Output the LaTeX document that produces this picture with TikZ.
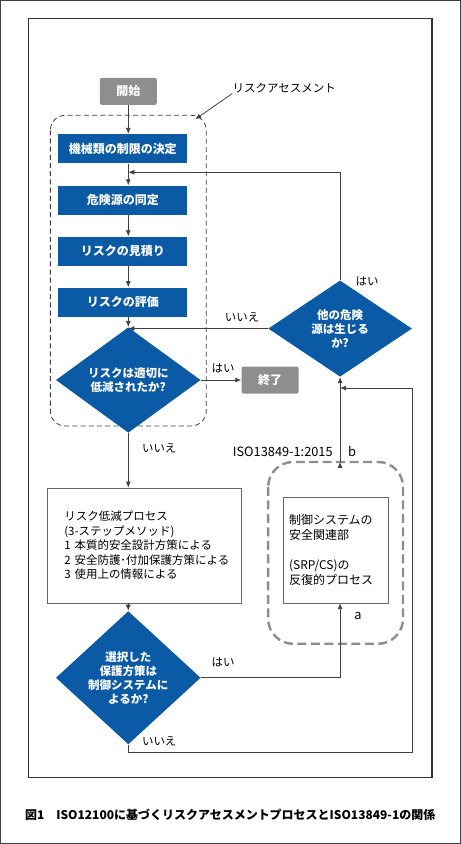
\documentclass[tikz,border=0pt]{standalone}
\usepackage{fontspec}
\setmainfont{Noto Sans CJK JP}
\usepackage{tikz}
\usetikzlibrary{positioning,shapes.geometric,arrows.meta}

\definecolor{procblue}{HTML}{0B5AA6}
\definecolor{termgray}{HTML}{8E8E8E}
\definecolor{linegray}{HTML}{404040}

\begin{document}
\begin{tikzpicture}[x=1pt,y=-1pt,on grid,
  >={Latex[length=6pt,width=5pt]},
  every path/.style={draw=linegray,line width=0.8pt},
  proc/.style={rectangle,fill=procblue,draw=none,text=white,font=\fontsize{12}{14}\selectfont\bfseries,
    minimum width=129pt,minimum height=29pt,inner sep=0pt},
  term/.style={rectangle,rounded corners=2pt,fill=termgray,draw=none,text=white,
    font=\fontsize{12}{14}\selectfont\bfseries,minimum width=57pt,minimum height=27pt,inner sep=0pt},
  decide/.style={diamond,fill=procblue,draw=none,text=white,align=center,inner sep=0pt,
    font=\fontsize{11.5}{14.2}\selectfont\bfseries},
  plain/.style={rectangle,draw=linegray!80,line width=0.6pt,fill=white,align=left,inner sep=0pt,
    font=\fontsize{11.5}{14.5}\selectfont},
  lbl/.style={inner sep=0pt,font=\fontsize{11.5}{13}\selectfont}]
\useasboundingbox (0,0) rectangle (460,844);
\draw[line width=1.4pt,draw=black!80] (28,18) rectangle (432,778);

% risk assessment
\node[term] (start) at (128,91) {開始};
\node[proc] (b1) [below=57.5pt of start,xshift=-5.5pt] {機械類の制限の決定};
\node[proc] (b2) [below=51.5pt of b1] {危険源の同定};
\node[proc] (b3) [below=51pt of b2] {リスクの見積り};
\node[proc] (b4) [below=51pt of b3] {リスクの評価};
\node[decide,minimum width=145pt,minimum height=69pt] (d1) at (128,380) {リスクは適切に\\低減されたか?};
\node[term] (stop) [right=142pt of d1] {終了};
\draw[dashed,dash pattern=on 5pt off 3.2pt,rounded corners=15pt] (50,115) rectangle (206,426);
\node[lbl,anchor=west] (ra) at (232,88) {リスクアセスメント};
\coordinate (ratip) at (195,119);

% other hazards
\node[decide,minimum width=144pt,minimum height=69pt] (d2) at (340,328.5) {他の危険\\源は生じる\\か?};

% reduction
\node[plain,minimum width=194pt,minimum height=115pt,text width=160pt] (red) at (144,545.5)
  {リスク低減プロセス\\(3-ステップメソッド)\\1~本質的安全設計方策による\\2~安全防護･付加保護方策による\\3~使用上の情報による};
\node[decide,minimum width=145pt,minimum height=90pt] (d3) at (128,678) {選択した\\保護方策は\\制御システムに\\よるか?};

% ISO13849-1
\draw[dashed,draw=termgray,line width=2.4pt,dash pattern=on 9pt off 4.5pt,rounded corners=25pt] (268,462) rectangle (403,644);
\coordinate (iso) at (340,462);
\node[plain,minimum width=105pt,minimum height=106pt,text width=93pt,font=\fontsize{12}{15}\selectfont] (srp) at (335.5,550)
  {制御システムの\\安全関連部\\[15pt](SRP/CS)の\\反復的プロセス};
\node[lbl,anchor=east,font=\fontsize{12.8}{14}\selectfont] (isolbl) at (333,452) {ISO13849-1:2015};
\node[lbl,font=\fontsize{12.8}{14}\selectfont] (blbl) at (352,452) {b};
\node[lbl,font=\fontsize{12.8}{14}\selectfont] (albl) at (358,616) {a};

\coordinate (c1) at (412,753);
\coordinate (c2) at (412,388);
\coordinate (c3) at (340,172);

\path[->]
(start) edge (start |- b1.north)
(b1.south -| start) edge (b2.north -| start)
(b2.south -| start) edge (b3.north -| start)
(b3.south -| start) edge (b4.north -| start)
(b4.south -| start) edge (d1.north)
(d1) edge (stop)
(d1.south) edge (d1.south |- red.north)
(red.south -| d3) edge (d3.north)
(ra.south west) edge (ratip)
(d2.west) edge (d2.west -| d1.north)
(iso) edge (d2.south)
; %end path
\draw[->] (d2.north) -- (c3) -- (c3 -| start);
\draw[->] (d3.east) -| (d2 |- srp.south);
\draw[->] (d3.south) |- (c1) -- (c2) -- (c2 -| d2);

\node[lbl] at (367,281) {はい};
\node[lbl] at (242,317) {いいえ};
\node[lbl] at (223,368) {はい};
\node[lbl] at (159,448) {いいえ};
\node[lbl] at (223,663) {はい};
\node[lbl] at (159,742) {いいえ};

\node[inner sep=0pt,font=\fontsize{12}{14}\selectfont\bfseries] (caption) at (230,815)
  {図1\hspace{1em}ISO12100に基づくリスクアセスメントプロセスとISO13849-1の関係};
\end{tikzpicture}
\end{document}
